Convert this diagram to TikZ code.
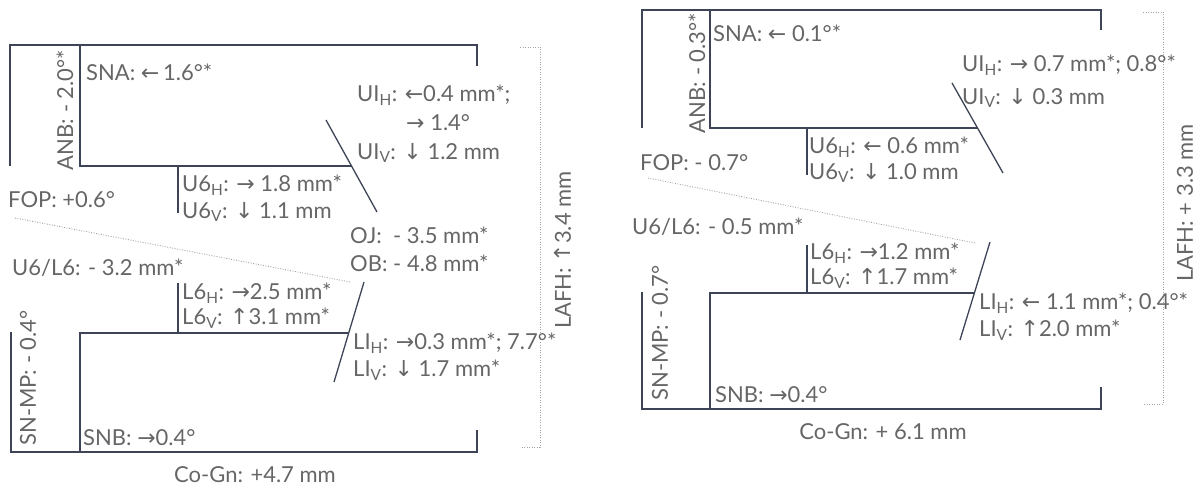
\documentclass[tikz,border=0pt]{standalone}
\usepackage{fontspec}
\setmainfont{Lato}
\newfontfamily\arrowfont{DejaVu Sans}
\newcommand{\larr}{{\arrowfont ←}}
\newcommand{\rarr}{{\arrowfont →}}
\newcommand{\uarr}{{\arrowfont ↑}}
\newcommand{\darr}{{\arrowfont ↓}}
\newcommand{\sub}[1]{\textsubscript{#1}}
\definecolor{txtgray}{HTML}{666666}
\definecolor{linenavy}{HTML}{3D4457}
\definecolor{dotgray}{HTML}{A3A3A3}
\tikzset{
  jaw/.style={linenavy, line width=1.3pt},
  guide/.style={dotgray, line width=0.9pt, dash pattern=on 0.9pt off 1.6pt},
  lbl/.style={txtgray, anchor=west, inner sep=0pt, font=\fontsize{22}{26}\selectfont},
  vlbl/.style={lbl, anchor=center, rotate=90},
}

\begin{document}
\begin{tikzpicture}[x=1pt,y=-1pt]
\useasboundingbox (0,0) rectangle (1199,489);

% left: upper jaw
\draw[jaw] (10,166) -- (10,45) -- (477,45) -- (477,66);
\draw[jaw] (80,45) -- (80,166) -- (351.5,166);
\draw[jaw] (326,120) -- (377,212);
\draw[jaw] (178,166) -- (178,213);
% left: lower jaw
\draw[jaw] (11,332) -- (11,452) -- (477,452) -- (477,430);
\draw[jaw] (80,452) -- (80,333) -- (349,333);
\draw[jaw] (364,282) -- (334,382);
\draw[jaw] (178,333) -- (178,283);
\draw[guide] (15,218) -- (350,282);
\draw[guide] (520,47) -- (540,47) -- (540,447) -- (520,447);

\node[vlbl] (anbL) at (65,110) {ANB: - 2.0°*};
\node[lbl] (snaL) at (86,72) {SNA: \larr\,1.6°*};
\node[lbl] (uiHL) at (357,95) {UI\sub{H}: \larr 0.4 mm*;};
\node[lbl] (uiAL) at (406,123) {\rarr\ 1.4°};
\node[lbl] (uiVL) at (357,153) {UI\sub{V}: \darr\ 1.2 mm};
\node[lbl] (u6HL) at (182,185) {U6\sub{H}: \rarr\ 1.8 mm*};
\node[lbl] (u6VL) at (182,212) {U6\sub{V}: \darr\ 1.1 mm};
\node[lbl] (fopL) at (8,200) {FOP: +0.6°};
\node[lbl] (ojL) at (350,235) {OJ:\ \ - 3.5 mm*};
\node[lbl] (obL) at (350,263) {OB: - 4.8 mm*};
\node[lbl] (molL) at (12,268) {U6/L6: - 3.2 mm*};
\node[lbl] (l6HL) at (182,293) {L6\sub{H}: \rarr 2.5 mm*};
\node[lbl] (l6VL) at (182,318) {L6\sub{V}: \uarr 3.1 mm*};
\node[lbl] (liHL) at (353,343) {LI\sub{H}: \rarr 0.3 mm*; 7.7°*};
\node[lbl] (liVL) at (353,370) {LI\sub{V}: \darr\ 1.7 mm*};
\node[vlbl] (mpL) at (28,378) {SN-MP: - 0.4°};
\node[lbl] (snbL) at (83,438) {SNB: \rarr 0.4°};
\node[lbl, anchor=center] (cogL) at (255,475) {Co-Gn: +4.7 mm};
\node[vlbl] (lafhL) at (563,250) {LAFH: \uarr 3.4 mm};

% right: upper jaw
\draw[jaw] (642,128) -- (642,10) -- (1101,10) -- (1101,30);
\draw[jaw] (710,10) -- (710,128) -- (977,128);
\draw[jaw] (952,83) -- (1003,173);
\draw[jaw] (807,128) -- (807,175);
% right: lower jaw
\draw[jaw] (642,292) -- (642,409) -- (1101,409) -- (1101,387);
\draw[jaw] (710,409) -- (710,293) -- (975,293);
\draw[jaw] (990,242) -- (960,340);
\draw[jaw] (807,293) -- (807,245);
\draw[guide] (648,178) -- (975,243);
\draw[guide] (1143,12) -- (1163,12) -- (1163,404) -- (1143,404);

\node[vlbl] (anbR) at (697,73) {ANB: - 0.3°*};
\node[lbl] (snaR) at (713,33) {SNA: \larr\ 0.1°*};
\node[lbl] (uiHR) at (962,65) {UI\sub{H}: \rarr\ 0.7 mm*; 0.8°*};
\node[lbl] (uiVR) at (962,98) {UI\sub{V}: \darr\ 0.3 mm};
\node[lbl] (u6HR) at (809,147) {U6\sub{H}: \larr\ 0.6 mm*};
\node[lbl] (u6VR) at (809,173) {U6\sub{V}: \darr\ 1.0 mm};
\node[lbl] (fopR) at (640,163) {FOP: - 0.7°};
\node[lbl] (molR) at (632,227) {U6/L6: - 0.5 mm*};
\node[lbl] (l6HR) at (810,253) {L6\sub{H}: \rarr 1.2 mm*};
\node[lbl] (l6VR) at (810,278) {L6\sub{V}: \uarr 1.7 mm*};
\node[lbl] (liHR) at (979,303) {LI\sub{H}: \larr\ 1.1 mm*; 0.4°*};
\node[lbl] (liVR) at (979,330) {LI\sub{V}: \uarr 2.0 mm*};
\node[vlbl] (mpR) at (660,333) {SN-MP: - 0.7°};
\node[lbl] (snbR) at (715,395) {SNB: \rarr 0.4°};
\node[lbl, anchor=center] (cogR) at (883,432) {Co-Gn: + 6.1 mm};
\node[vlbl] (lafhR) at (1185,203) {LAFH: + 3.3 mm};
\end{tikzpicture}
\end{document}
